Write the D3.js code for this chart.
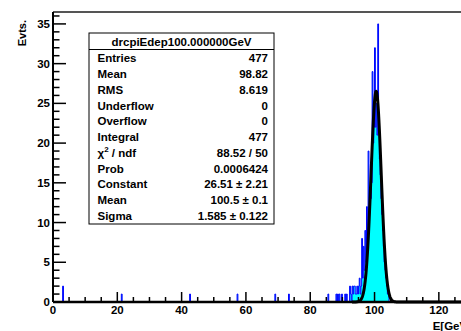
<!DOCTYPE html>
<html><head><meta charset="utf-8">
<script src="https://cdn.jsdelivr.net/npm/d3@7"></script>
<style>
html,body{margin:0;padding:0;background:#fff;overflow:hidden;}
text{font-family:"Liberation Sans",Arial,Helvetica,sans-serif;font-weight:bold;}
</style></head>
<body><svg id="c" width="461" height="331"></svg>
<script>
// ---- data ----
const binWidth = 0.25;
// low edges of non-empty bins (GeV)
const binLow = [3.0, 21.25, 42.5, 57.25, 69.0, 73.25, 85.5, 88.0, 88.5, 89.0, 89.75, 90.75, 91.25, 92.25, 92.5, 93.0, 93.25, 93.5, 93.75,
  94.0, 94.25, 94.5, 94.75, 95.0, 95.25, 95.5, 95.75, 96.0, 96.25, 96.5, 96.75, 97.0, 97.25, 97.5, 97.75,
  98.0, 98.25, 98.5, 98.75, 99.0, 99.25, 99.5, 99.75, 100.0, 100.25, 100.5, 100.75, 101.0, 101.25, 101.5, 101.75,
  102.0, 102.25, 102.5, 102.75, 103.0, 103.25, 103.5, 103.75, 104.0, 104.25];
const binCount = [2, 1, 1, 1, 1, 1, 1, 1, 1, 1, 1, 1, 1, 2, 1, 2, 1, 2, 2,
  1, 1, 2, 1, 2, 3, 1, 2, 8, 3, 7, 4, 9, 5, 12, 8,
  19, 11, 12, 13, 15, 29, 20, 22, 32, 22, 25, 21, 35, 22, 18, 16,
  13, 11, 9, 7, 5, 4, 3, 2, 1, 1];
// Gaussian fit parameters: constant, mean, sigma, and fit range
const fitParams = [26.51, 100.5, 1.585];
const fitRange = [93, 130];
const xTicks = [0, 20, 40, 60, 80, 100, 120];
const yTicks = [0, 5, 10, 15, 20, 25, 30, 35];
const statLabels = ["Entries", "Mean", "RMS", "Underflow", "Overflow", "Integral", "χ2 / ndf", "Prob", "Constant", "Mean", "Sigma"];
const statValues = ["477", "98.82", "8.619", "0", "0", "477", "88.52 / 50", "0.0006424", "26.51 ± 2.21", "100.5 ± 0.1", "1.585 ± 0.122"];
const statTitle = "drcpiEdep100.000000GeV";

// ---- layout ----
const svg = d3.select("#c");
const L = 53, R = 471, T = 12, B = 302;
const x = d3.scaleLinear().domain([0, 130]).range([L, R]);
const y = d3.scaleLinear().domain([0, 36.5]).range([B, T]);

// frame top line
svg.append("line").attr("x1", L).attr("x2", R).attr("y1", T).attr("y2", T)
  .attr("stroke", "#555").attr("stroke-width", 2);

// histogram (step outline, cyan fill, blue line)
const pts = [];
binLow.forEach((lo, i) => {
  const hi = lo + binWidth;
  const c = binCount[i];
  if (pts.length && Math.abs(pts[pts.length - 1][0] - lo) < 1e-9) {
    pts.push([lo, c]);
  } else {
    pts.push([lo, 0]); pts.push([lo, c]);
  }
  pts.push([hi, c]);
  const next = binLow[i + 1];
  if (next === undefined || Math.abs(next - hi) > 1e-9) pts.push([hi, 0]);
});
const line = d3.line().x(d => x(d[0])).y(d => y(d[1]));
svg.append("path").attr("d", line(pts) + "Z")
  .attr("fill", "#00ffff").attr("stroke", "#0000ff").attr("stroke-width", 1);

// fit function
const [C, mu, sg] = fitParams;
const fx = d3.range(fitRange[0], fitRange[1] + 0.001, 0.05);
svg.append("path")
  .attr("d", d3.line().x(v => x(v)).y(v => y(C * Math.exp(-0.5 * ((v - mu) / sg) ** 2)))(fx))
  .attr("fill", "none").attr("stroke", "#000").attr("stroke-width", 3).attr("stroke-linejoin", "round");

// axes
const axG = svg.append("g");
axG.append("line").attr("x1", L).attr("x2", R).attr("y1", B).attr("y2", B).attr("stroke", "#000").attr("stroke-width", 2.5);
axG.append("line").attr("x1", L).attr("x2", L).attr("y1", T).attr("y2", B).attr("stroke", "#000").attr("stroke-width", 2);
// x ticks
d3.range(0, 131, 5).forEach(v => {
  const major = xTicks.includes(v);
  axG.append("line").attr("x1", x(v)).attr("x2", x(v)).attr("y1", B).attr("y2", B - (major ? 10 : 5))
    .attr("stroke", "#000").attr("stroke-width", 1.5);
});
xTicks.forEach(v => {
  axG.append("text").attr("x", x(v)).attr("y", 314).attr("text-anchor", "middle")
    .attr("font-size", 11.5).text(v);
});
// y ticks
d3.range(0, 37, 1).forEach(v => {
  const major = yTicks.includes(v);
  axG.append("line").attr("x1", L).attr("x2", L + (major ? 13 : 6.5)).attr("y1", y(v)).attr("y2", y(v))
    .attr("stroke", "#000").attr("stroke-width", 1.5);
});
yTicks.forEach(v => {
  axG.append("text").attr("x", 50).attr("y", y(v) + 4).attr("text-anchor", "end")
    .attr("font-size", 11.5).text(v);
});
// axis titles
svg.append("text").attr("transform", "translate(26,20) rotate(-90)").attr("text-anchor", "end")
  .attr("font-size", 11).text("Evts.");
svg.append("text").attr("x", 471).attr("y", 330).attr("text-anchor", "end")
  .attr("font-size", 11.5).text("E[GeV]");

// stats box
const bx0 = 89, bx1 = 274, by0 = 33, by1 = 224;
const sb = svg.append("g");
sb.append("rect").attr("x", bx0).attr("y", by0).attr("width", bx1 - bx0).attr("height", by1 - by0)
  .attr("fill", "#fff").attr("stroke", "#000").attr("stroke-width", 1);
sb.append("line").attr("x1", bx0).attr("x2", bx1).attr("y1", 49.5).attr("y2", 49.5).attr("stroke", "#000");
sb.append("text").attr("x", (bx0 + bx1) / 2).attr("y", 46).attr("text-anchor", "middle")
  .attr("font-size", 11.5).text(statTitle);
statLabels.forEach((lab, i) => {
  const yy = 58.3 + i * 15.77 + 4;
  const t = sb.append("text").attr("x", 97.5).attr("y", yy).attr("font-size", 11.5);
  if (lab.startsWith("χ2")) {
    t.append("tspan").text("χ");
    t.append("tspan").attr("dy", -5).attr("font-size", 8).text("2");
    t.append("tspan").attr("dy", 5).text(" / ndf");
  } else t.text(lab);
  sb.append("text").attr("x", 268).attr("y", yy).attr("text-anchor", "end")
    .attr("font-size", 11.5).text(statValues[i]);
});
</script></body></html>
